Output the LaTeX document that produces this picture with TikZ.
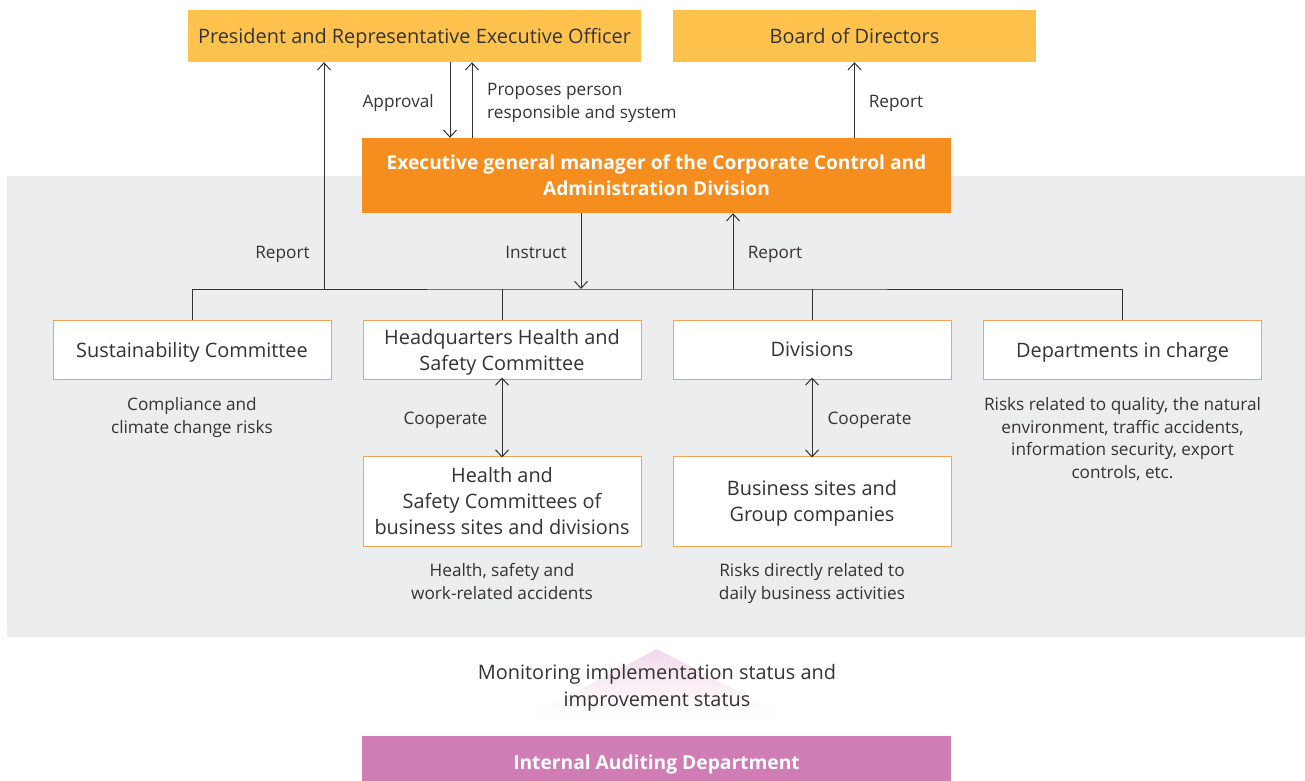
\documentclass[tikz,border=0pt]{standalone}
\usepackage{fontspec}
\setmainfont{Open Sans}
\usetikzlibrary{arrows.meta, positioning}

\definecolor{presyellow}{HTML}{FFC34D}
\definecolor{execorange}{HTML}{F68D1F}
\definecolor{auditpink}{HTML}{D17DB5}
\definecolor{panelgray}{HTML}{ECEDEF}
\definecolor{boxline}{HTML}{F5A455}
\definecolor{inktext}{HTML}{333333}

\begin{document}
\begin{tikzpicture}[
x=1pt, y=-1pt,
every node/.style={align=center, text=inktext, inner sep=0pt, text depth=0pt},
topbox/.style={fill=presyellow, minimum height=52pt, font=\fontsize{19.9}{26}\selectfont},
headbox/.style={fill=#1, minimum width=589pt, text=white, font=\fontsize{19.2}{26}\selectfont\bfseries},
unitbox/.style={draw=boxline, line width=1pt, fill=white, minimum width=278pt, font=\fontsize{19.9}{26}\selectfont},
note/.style={font=\fontsize{17.2}{22.8}\selectfont},
arrow/.style={-{Straight Barb[length=7pt, width=13pt]}, line width=1pt, inktext},
both/.style={{Straight Barb[length=7pt, width=13pt]}-{Straight Barb[length=7pt, width=13pt]}, line width=1pt, inktext},
link/.style={line width=1pt, inktext}
]
\useasboundingbox (0,0) rectangle (1305,780);
\fill[panelgray] (7,176) rectangle (1305,637);

% pink hint arrow behind the monitoring text
\shade[top color=auditpink!30, bottom color=white] (657,649) -- (780,714) -- (534,714) -- cycle;

% top level
\node[topbox, minimum width=453pt] (president) at (414.5,36) {President and Representative Executive Officer};
\node[topbox, minimum width=363pt] (board) at (854.5,36) {Board of Directors};
\node[headbox=execorange, minimum height=75pt] (exec) at (656.5,175.5)
{Executive general manager of the Corporate Control and\\Administration Division};

% committees
\node[unitbox, minimum height=59pt] (sust) at (192,349.5) {Sustainability Committee};
\node[unitbox, minimum height=59pt] (hq) at (502,349.5) {Headquarters Health and\\Safety Committee};
\node[unitbox, minimum height=59pt] (div) at (812,349.5) {Divisions};
\node[unitbox, minimum height=59pt] (dept) at (1122.5,349.5) {Departments in charge};

\node[unitbox, minimum height=90pt] (sites) at (502,501) {Health and\\Safety Committees of\\business sites and divisions};
\node[unitbox, minimum height=90pt] (group) at (812,501) {Business sites and\\Group companies};

\node[headbox=auditpink, minimum height=52pt] (audit) at (656.5,762) {Internal Auditing Department};

% notes
\node[note] (sustnote) at (192,415.5) {Compliance and\\climate change risks};
\node[note] (deptnote) at (1122.5,438) {Risks related to quality, the natural\\environment, traffic accidents,\\information security, export\\controls, etc.};
\node[note] (sitesnote) at (502,581.5) {Health, safety and\\work-related accidents};
\node[note] (groupnote) at (812,581.5) {Risks directly related to\\daily business activities};
\node[font=\fontsize{19.9}{27}\selectfont] (monitor) at (657,685.5) {Monitoring implementation status and\\improvement status};

% reporting bus
\coordinate (bus) at (657,289);
\draw[link] (sust.north) |- (bus) -| (dept.north);
\draw[link] (hq.north) -- (hq.north |- bus);
\draw[link] (div.north) -- (div.north |- bus);

% arrows
\coordinate (repL) at (324,289);
\draw[arrow] (repL) -- (repL |- president.south);
\draw[arrow] ([xshift=35.5pt]president.south) -- ([xshift=35.5pt]president.south |- exec.north);
\draw[arrow] ([xshift=-184.5pt]exec.north) -- ([xshift=-184.5pt]exec.north |- president.south);
\draw[arrow] (exec.north -| board.south) -- (board.south);
\draw[arrow] ([xshift=-75.5pt]exec.south) -- ([xshift=-75.5pt]exec.south |- bus);
\draw[arrow] ([xshift=76.5pt]exec.south |- bus) -- ([xshift=76.5pt]exec.south);
\draw[both] ([yshift=2pt]hq.south) -- ([yshift=-2pt]sites.north);
\draw[both] ([yshift=2pt]div.south) -- ([yshift=-2pt]group.north);

% arrow labels
\node[note, anchor=east] (approval) at (434,101) {Approval};
\node[note, anchor=west, align=left] (proposes) at (487,100.5) {Proposes person\\responsible and system};
\node[note] (reportB) at (896,101) {Report};
\node[note] (reportL) at (282.5,252) {Report};
\node[note] (instruct) at (536,252) {Instruct};
\node[note] (reportR) at (775,252) {Report};
\node[note] (coopL) at (445.5,418) {Cooperate};
\node[note] (coopR) at (869.5,418) {Cooperate};
\end{tikzpicture}
\end{document}
